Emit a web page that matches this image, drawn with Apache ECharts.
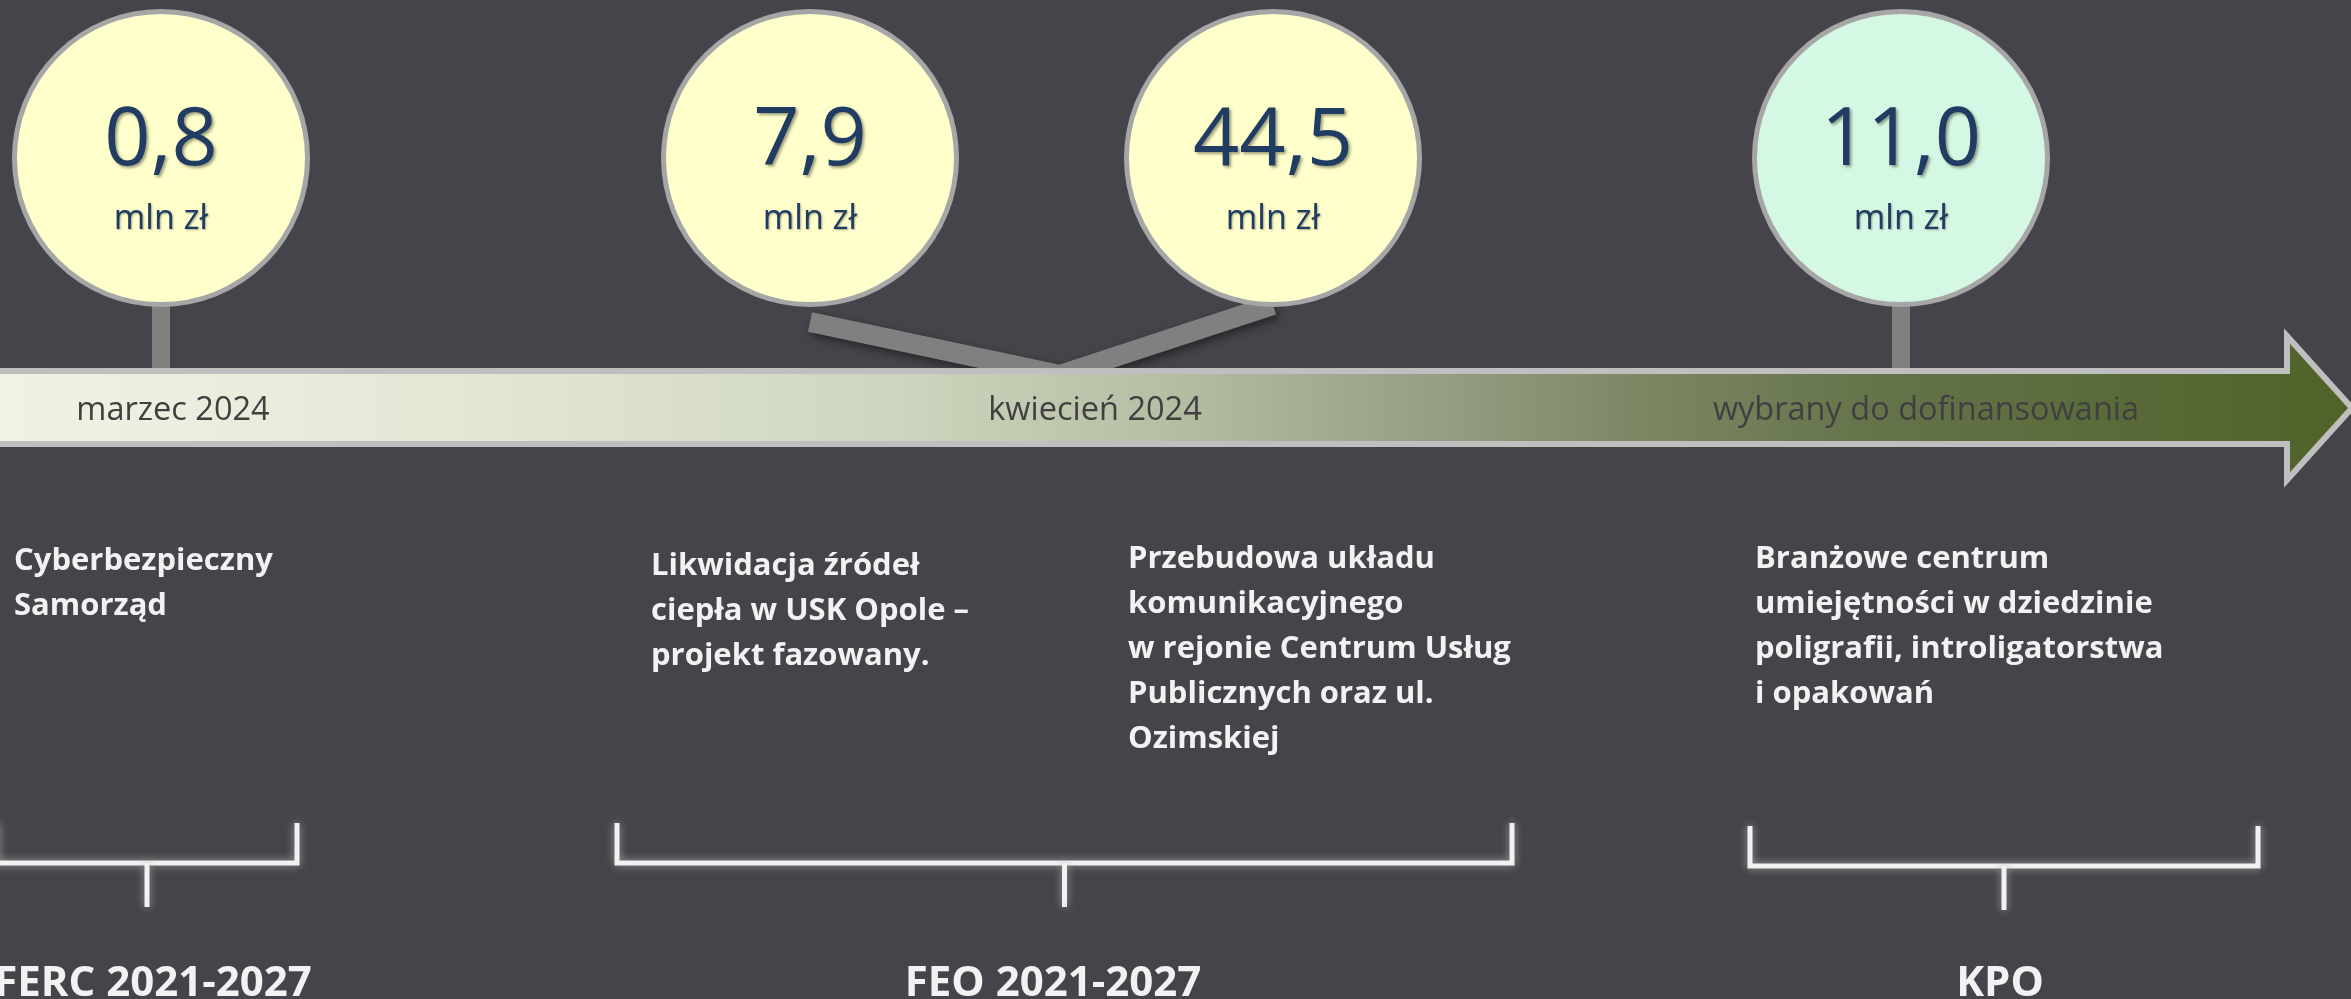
<!DOCTYPE html>
<html>
<head>
<meta charset="utf-8">
<script src="https://cdn.jsdelivr.net/npm/echarts@6/dist/echarts.min.js"></script>
<style>
  html, body { margin: 0; padding: 0; background: #45444a; }
  #chart { width: 2351px; height: 999px; }
</style>
</head>
<body>
<div id="chart"></div>
<script>
// dane
const amounts = [0.8, 7.9, 44.5, 11.0];
const dates = ['marzec 2024', 'kwiecień 2024', 'wybrany do dofinansowania'];
const projects = [
  'Cyberbezpieczny\nSamorząd',
  'Likwidacja źródeł\nciepła w USK Opole –\nprojekt fazowany.',
  'Przebudowa układu\nkomunikacyjnego\nw rejonie Centrum Usług\nPublicznych oraz ul.\nOzimskiej',
  'Branżowe centrum\numiejętności w dziedzinie\npoligrafii, introligatorstwa\ni opakowań'
];
const programs = ['FERC 2021-2027', 'FEO 2021-2027', 'KPO'];
// do której grupy (data / program) należy projekt
const projectGroup = [0, 1, 1, 2];

// układ - współrzędne w pikselach obrazka
const W = 2351, H = 999;
const circleX = [161, 810, 1273, 1901];
const circleY = 158;
const connTop = [300, 322, 305, 300];
const apexX = 1060;
const textX = [14, 651, 1128, 1755];
const textTop = [539, 544, 537, 537];
const dateX = [173, 1095, 1926];
const bracketL = [-3, 617, 1750];
const bracketR = [297, 1512, 2258];
const bracketTop = [823, 823, 826];
const programX = [153, 1053, 2000];

const FONT = '"Open Sans", "Noto Sans", sans-serif';
const fmt = v => v.toFixed(1).replace('.', ',');

let chart = echarts.init(document.getElementById('chart'));

let option = {
  backgroundColor: '#45444a',
  animation: false,
  grid: { left: 0, right: 0, top: 0, bottom: 0 },
  xAxis: { type: 'value', min: 0, max: W, show: false },
  yAxis: { type: 'value', min: 0, max: H, inverse: true, show: false },
  series: [
    // łączniki kół ze strzałką
    {
      type: 'custom',
      z: 1,
      data: projects.map((p, i) => i),
      renderItem: (params, api) => {
        let i = params.dataIndex
        let shared = projectGroup.filter(g => g === projectGroup[i]).length > 1
        let a = api.coord([circleX[i], connTop[i]])
        let b = api.coord([shared ? apexX : circleX[i], 375])
        return {
          type: 'line',
          shape: { x1: a[0], y1: a[1], x2: b[0], y2: b[1] },
          style: {
            stroke: '#808080',
            lineWidth: shared ? 20 : 18,
            shadowColor: shared ? 'rgba(0,0,0,0.45)' : 'rgba(0,0,0,0)',
            shadowBlur: 8,
            shadowOffsetX: 3,
            shadowOffsetY: 4
          }
        }
      }
    },
    // strzałka osi czasu
    {
      type: 'custom',
      z: 2,
      data: [0],
      renderItem: (params, api) => {
        let pts = [[-10, 371], [2287, 371], [2287, 336], [2352, 408], [2287, 480], [2287, 444], [-10, 444]]
          .map(p => api.coord(p))
        return {
          type: 'polygon',
          shape: { points: pts },
          style: {
            fill: new echarts.graphic.LinearGradient(0, 0, 1, 0, [
              { offset: 0, color: '#eff3e5' },
              { offset: 0.2, color: '#e3e8d5' },
              { offset: 0.38, color: '#cfd6bf' },
              { offset: 0.5, color: '#b5bda3' },
              { offset: 0.6, color: '#98a288' },
              { offset: 0.7, color: '#7b8763' },
              { offset: 0.8, color: '#64734a' },
              { offset: 1, color: '#4f6228' }
            ]),
            stroke: '#bfbfbf',
            lineWidth: 6
          }
        }
      }
    },
    // daty na strzałce
    {
      type: 'custom',
      z: 3,
      data: dates.map((d, i) => i),
      renderItem: (params, api) => {
        let i = params.dataIndex
        let p = api.coord([dateX[i], 411])
        return {
          type: 'text',
          x: p[0], y: p[1],
          style: {
            text: dates[i],
            fill: '#404040',
            font: '32.5px ' + FONT,
            textAlign: 'center', textVerticalAlign: 'middle',
            align: 'center', verticalAlign: 'middle'
          }
        }
      }
    },
    // koła z kwotami
    {
      type: 'scatter',
      z: 4,
      symbol: 'circle',
      symbolSize: 293,
      data: amounts.map((v, i) => ({
        value: [circleX[i], circleY, v],
        itemStyle: { color: projectGroup[i] === 2 ? '#d5f8e4' : '#ffffcc' }
      })),
      itemStyle: { borderColor: '#a6a6a6', borderWidth: 5, opacity: 1 },
      label: {
        show: true,
        position: 'inside',
        formatter: p => '{v|' + fmt(p.value[2]) + '}\n{u|mln zł}',
        rich: {
          v: {
            fontFamily: FONT, fontSize: 81, color: '#213c62', lineHeight: 122,
            textShadowColor: 'rgba(40,40,20,0.45)', textShadowBlur: 3,
            textShadowOffsetX: 2, textShadowOffsetY: 2
          },
          u: {
            fontFamily: FONT, fontSize: 34, color: '#213c62', lineHeight: 32,
            textShadowColor: 'rgba(40,40,20,0.4)', textShadowBlur: 2,
            textShadowOffsetX: 1, textShadowOffsetY: 1
          }
        }
      },
      emphasis: { disabled: true }
    },
    // opisy projektów
    {
      type: 'custom',
      z: 3,
      data: projects.map((p, i) => i),
      renderItem: (params, api) => {
        let i = params.dataIndex
        let p = api.coord([textX[i], textTop[i]])
        return {
          type: 'text',
          x: p[0], y: p[1],
          style: {
            text: projects[i],
            fill: '#f2f2f2',
            font: 'bold 31px ' + FONT,
            lineHeight: 45,
            textAlign: 'left', textVerticalAlign: 'top',
            align: 'left', verticalAlign: 'top'
          }
        }
      }
    },
    // nawiasy i nazwy programów
    {
      type: 'custom',
      z: 3,
      data: programs.map((p, i) => i),
      renderItem: (params, api) => {
        let i = params.dataIndex
        let L = bracketL[i], R = bracketR[i], T = bracketTop[i]
        let B = T + 40, M = (L + R) / 2
        let glow = { stroke: '#f2f2f2', lineWidth: 5, fill: null, shadowColor: 'rgba(170,170,170,0.9)', shadowBlur: 9 }
        let lab = api.coord([programX[i], 984])
        return {
          type: 'group',
          children: [
            {
              type: 'polyline',
              shape: { points: [[L, T], [L, B], [R, B], [R, T]].map(q => api.coord(q)) },
              style: glow
            },
            {
              type: 'line',
              shape: (() => { let a = api.coord([M, B]), b = api.coord([M, B + 44]); return { x1: a[0], y1: a[1], x2: b[0], y2: b[1] } })(),
              style: glow
            },
            {
              type: 'text',
              x: lab[0], y: lab[1],
              style: {
                text: programs[i],
                fill: '#f2f2f2',
                font: 'bold 42px ' + FONT,
                textAlign: 'center', textVerticalAlign: 'middle',
                align: 'center', verticalAlign: 'middle'
              }
            }
          ]
        }
      }
    }
  ]
}

chart.setOption(option)
</script>
</body>
</html>
